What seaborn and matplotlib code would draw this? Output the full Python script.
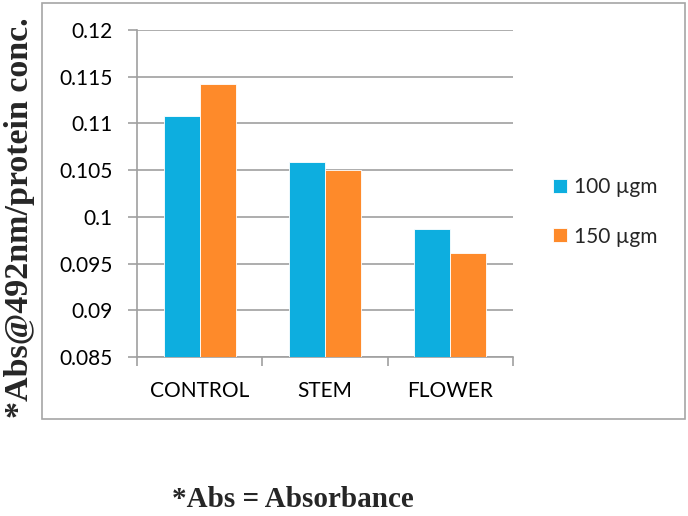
import matplotlib
matplotlib.use('Agg')
import matplotlib.pyplot as plt
import pandas as pd
import seaborn as sns
from matplotlib.patches import Rectangle

# Data
categories = ['CONTROL', 'STEM', 'FLOWER']
dose_100 = [0.1108, 0.1059, 0.0987]
dose_150 = [0.1142, 0.1050, 0.0961]
series_names = ['100 µgm', '150 µgm']
y_ticks = [0.085, 0.09, 0.095, 0.1, 0.105, 0.11, 0.115, 0.12]
y_tick_labels = ['0.085', '0.09', '0.095', '0.1', '0.105', '0.11', '0.115', '0.12']

df = pd.DataFrame({
    'category': categories * 2,
    'value': dose_100 + dose_150,
    'series': [series_names[0]] * 3 + [series_names[1]] * 3,
})

sns.set_style('white')
plt.rcParams['font.family'] = ['Lato', 'DejaVu Sans']

fig = plt.figure(figsize=(6.88, 5.16), dpi=100)
ax = fig.add_axes([0.1991, 0.3081, 0.7456 - 0.1991, 0.9419 - 0.3081])

# chart area border
fig.patches.append(Rectangle((0.061, 0.188), 0.934, 0.806, transform=fig.transFigure,
                             fill=False, edgecolor='#a6a6a6', linewidth=1.2, zorder=0))

palette = {series_names[0]: '#0daedf', series_names[1]: '#fe8a2a'}
sns.barplot(data=df, x='category', y='value', hue='series', palette=palette,
            width=0.575, gap=0, saturation=1, ax=ax, zorder=3,
            edgecolor='white', linewidth=0.6)

ax.set_ylim(0.085, 0.12)
ax.set_xlim(-0.5, 2.5)
ax.set_yticks(y_ticks)
ax.set_yticklabels(y_tick_labels)
ax.set_xlabel('')
ax.set_ylabel('')

ax.yaxis.grid(True, color='#a0a0a0', linewidth=1.2)
ax.set_axisbelow(True)
for s in ['top', 'right']:
    ax.spines[s].set_visible(False)
for s in ['left', 'bottom']:
    ax.spines[s].set_color('#a0a0a0')
    ax.spines[s].set_linewidth(1.2)

ax.tick_params(axis='y', left=True, length=6.5, width=1.2, color='#a0a0a0',
               pad=11, labelsize=15, labelcolor='black')
ax.tick_params(axis='x', which='major', length=0, pad=17, labelsize=15, labelcolor='black')
ax.set_xticks([-0.5, 0.5, 1.5, 2.5], minor=True)
ax.tick_params(axis='x', which='minor', bottom=True, length=6.5, width=1.2, color='#a0a0a0')

leg = ax.legend(loc='center left', bbox_to_anchor=(0.789, 0.589), bbox_transform=fig.transFigure,
                frameon=False, fontsize=15, handlelength=0.65, handleheight=0.65,
                handletextpad=0.35, labelspacing=1.4, borderpad=0)

fig.text(0.029, 0.579, '*Abs@492nm/protein conc.', rotation=90, ha='center', va='center',
         fontsize=24.5, fontweight='bold', family=['Liberation Serif', 'DejaVu Serif'])
fig.text(0.425, 0.032, '*Abs = Absorbance', ha='center', va='center',
         fontsize=21, fontweight='bold', family=['Liberation Serif', 'DejaVu Serif'])

fig.savefig('out.png', dpi=100)
